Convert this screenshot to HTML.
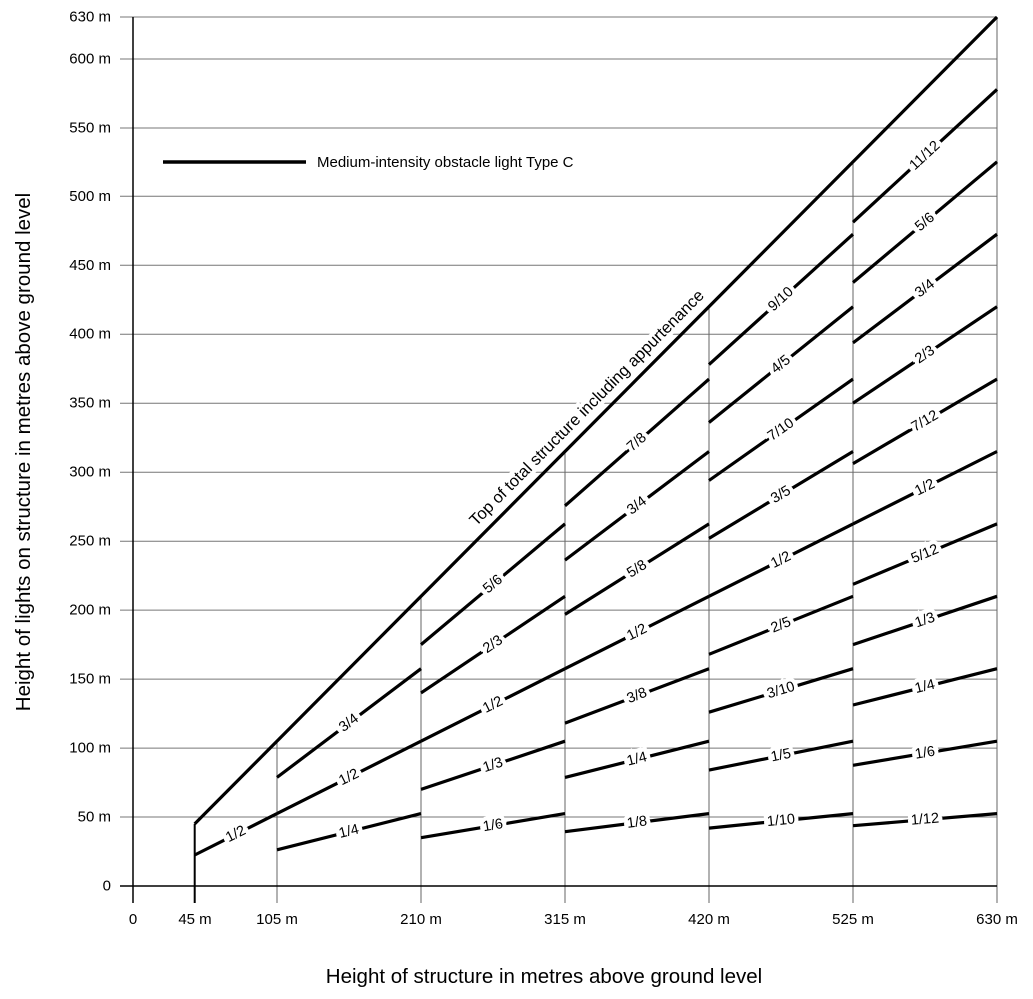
<!DOCTYPE html>
<html><head><meta charset="utf-8"><style>
html,body{margin:0;padding:0;background:#fff;}
svg{display:block;font-family:"Liberation Sans",sans-serif;}
.g{stroke:#777;stroke-width:1;}
.v{stroke:#666;stroke-width:1;}
.s{stroke:#000;stroke-width:3.2;stroke-linecap:butt;}
.l{font-size:14.5px;fill:#000;stroke:#fff;stroke-width:8;paint-order:stroke;text-anchor:middle;dominant-baseline:central;}
.yt{font-size:15px;text-anchor:end;dominant-baseline:central;}
.xt{font-size:15px;text-anchor:middle;}
</style></head><body>
<svg width="1033" height="999" viewBox="0 0 1033 999">
<g class="g">
<line x1="120" y1="17" x2="997" y2="17"/>
<line x1="120" y1="59" x2="997" y2="59"/>
<line x1="120" y1="128" x2="997" y2="128"/>
<line x1="120" y1="196.3" x2="997" y2="196.3"/>
<line x1="120" y1="265.3" x2="997" y2="265.3"/>
<line x1="120" y1="334.2" x2="997" y2="334.2"/>
<line x1="120" y1="403.2" x2="997" y2="403.2"/>
<line x1="120" y1="472.2" x2="997" y2="472.2"/>
<line x1="120" y1="541.2" x2="997" y2="541.2"/>
<line x1="120" y1="610.1" x2="997" y2="610.1"/>
<line x1="120" y1="679.1" x2="997" y2="679.1"/>
<line x1="120" y1="748.1" x2="997" y2="748.1"/>
<line x1="120" y1="817" x2="997" y2="817"/>
</g>
<g class="v">
<line x1="277" y1="903" x2="277" y2="741.2"/>
<line x1="421" y1="903" x2="421" y2="596.3"/>
<line x1="565" y1="903" x2="565" y2="451.5"/>
<line x1="709" y1="903" x2="709" y2="306.7"/>
<line x1="853" y1="903" x2="853" y2="161.8"/>
<line x1="997" y1="903" x2="997" y2="17"/>
</g>
<line x1="133" y1="17" x2="133" y2="903" stroke="#000" stroke-width="1.5"/>
<line x1="120" y1="886" x2="997" y2="886" stroke="#000" stroke-width="1.5"/>
<line x1="194.7" y1="903" x2="194.7" y2="823.9" stroke="#000" stroke-width="2"/>
<line class="s" x1="194.7" y1="823.9" x2="997" y2="17"/>
<text x="587" y="408" font-size="16.5" text-anchor="middle" dominant-baseline="central" fill="#000" stroke="#fff" stroke-width="8" paint-order="stroke" transform="rotate(-45.2 587 408)">Top of total structure including appurtenance</text>
<g class="s">
<line x1="194.7" y1="855" x2="277" y2="813.6"/>
<line x1="277" y1="849.8" x2="421" y2="813.6"/>
<line x1="277" y1="813.6" x2="421" y2="741.2"/>
<line x1="277" y1="777.4" x2="421" y2="668.7"/>
<line x1="421" y1="837.7" x2="565" y2="813.6"/>
<line x1="421" y1="789.4" x2="565" y2="741.2"/>
<line x1="421" y1="741.2" x2="565" y2="668.7"/>
<line x1="421" y1="692.9" x2="565" y2="596.3"/>
<line x1="421" y1="644.6" x2="565" y2="523.9"/>
<line x1="565" y1="831.7" x2="709" y2="813.6"/>
<line x1="565" y1="777.4" x2="709" y2="741.2"/>
<line x1="565" y1="723.1" x2="709" y2="668.7"/>
<line x1="565" y1="668.7" x2="709" y2="596.3"/>
<line x1="565" y1="614.4" x2="709" y2="523.9"/>
<line x1="565" y1="560.1" x2="709" y2="451.5"/>
<line x1="565" y1="505.8" x2="709" y2="379.1"/>
<line x1="709" y1="828.1" x2="853" y2="813.6"/>
<line x1="709" y1="770.1" x2="853" y2="741.2"/>
<line x1="709" y1="712.2" x2="853" y2="668.7"/>
<line x1="709" y1="654.3" x2="853" y2="596.3"/>
<line x1="709" y1="596.3" x2="853" y2="523.9"/>
<line x1="709" y1="538.4" x2="853" y2="451.5"/>
<line x1="709" y1="480.5" x2="853" y2="379.1"/>
<line x1="709" y1="422.5" x2="853" y2="306.7"/>
<line x1="709" y1="364.6" x2="853" y2="234.2"/>
<line x1="853" y1="825.7" x2="997" y2="813.6"/>
<line x1="853" y1="765.3" x2="997" y2="741.2"/>
<line x1="853" y1="705" x2="997" y2="668.7"/>
<line x1="853" y1="644.6" x2="997" y2="596.3"/>
<line x1="853" y1="584.3" x2="997" y2="523.9"/>
<line x1="853" y1="523.9" x2="997" y2="451.5"/>
<line x1="853" y1="463.6" x2="997" y2="379.1"/>
<line x1="853" y1="403.2" x2="997" y2="306.7"/>
<line x1="853" y1="342.9" x2="997" y2="234.2"/>
<line x1="853" y1="282.5" x2="997" y2="161.8"/>
<line x1="853" y1="222.2" x2="997" y2="89.4"/>
</g>
<g class="l">
<text x="235.9" y="834.3" transform="rotate(-26.7 235.9 834.3)">1/2</text>
<text x="349" y="831.7" transform="rotate(-14.1 349 831.7)">1/4</text>
<text x="349" y="777.4" transform="rotate(-26.7 349 777.4)">1/2</text>
<text x="349" y="723.1" transform="rotate(-37 349 723.1)">3/4</text>
<text x="493" y="825.7" transform="rotate(-9.5 493 825.7)">1/6</text>
<text x="493" y="765.3" transform="rotate(-18.5 493 765.3)">1/3</text>
<text x="493" y="705" transform="rotate(-26.7 493 705)">1/2</text>
<text x="493" y="644.6" transform="rotate(-33.8 493 644.6)">2/3</text>
<text x="493" y="584.3" transform="rotate(-40 493 584.3)">5/6</text>
<text x="637" y="822.6" transform="rotate(-7.2 637 822.6)">1/8</text>
<text x="637" y="759.3" transform="rotate(-14.1 637 759.3)">1/4</text>
<text x="637" y="695.9" transform="rotate(-20.7 637 695.9)">3/8</text>
<text x="637" y="632.5" transform="rotate(-26.7 637 632.5)">1/2</text>
<text x="637" y="569.2" transform="rotate(-32.2 637 569.2)">5/8</text>
<text x="637" y="505.8" transform="rotate(-37 637 505.8)">3/4</text>
<text x="637" y="442.4" transform="rotate(-41.3 637 442.4)">7/8</text>
<text x="781" y="820.8" transform="rotate(-5.7 781 820.8)">1/10</text>
<text x="781" y="755.6" transform="rotate(-11.4 781 755.6)">1/5</text>
<text x="781" y="690.5" transform="rotate(-16.8 781 690.5)">3/10</text>
<text x="781" y="625.3" transform="rotate(-21.9 781 625.3)">2/5</text>
<text x="781" y="560.1" transform="rotate(-26.7 781 560.1)">1/2</text>
<text x="781" y="494.9" transform="rotate(-31.1 781 494.9)">3/5</text>
<text x="781" y="429.8" transform="rotate(-35.1 781 429.8)">7/10</text>
<text x="781" y="364.6" transform="rotate(-38.8 781 364.6)">4/5</text>
<text x="781" y="299.4" transform="rotate(-42.2 781 299.4)">9/10</text>
<text x="925" y="819.6" transform="rotate(-4.8 925 819.6)">1/12</text>
<text x="925" y="753.2" transform="rotate(-9.5 925 753.2)">1/6</text>
<text x="925" y="686.8" transform="rotate(-14.1 925 686.8)">1/4</text>
<text x="925" y="620.5" transform="rotate(-18.5 925 620.5)">1/3</text>
<text x="925" y="554.1" transform="rotate(-22.7 925 554.1)">5/12</text>
<text x="925" y="487.7" transform="rotate(-26.7 925 487.7)">1/2</text>
<text x="925" y="421.3" transform="rotate(-30.4 925 421.3)">7/12</text>
<text x="925" y="354.9" transform="rotate(-33.8 925 354.9)">2/3</text>
<text x="925" y="288.6" transform="rotate(-37 925 288.6)">3/4</text>
<text x="925" y="222.2" transform="rotate(-40 925 222.2)">5/6</text>
<text x="925" y="155.7" transform="rotate(-42.7 925 155.7)">11/12</text>
</g>
<line x1="163" y1="162" x2="306" y2="162" stroke="#000" stroke-width="3.5"/>
<text x="317" y="167" font-size="15">Medium-intensity obstacle light Type C</text>
<g class="yt">
<text x="111" y="17">630 m</text>
<text x="111" y="59">600 m</text>
<text x="111" y="128">550 m</text>
<text x="111" y="196.3">500 m</text>
<text x="111" y="265.3">450 m</text>
<text x="111" y="334.2">400 m</text>
<text x="111" y="403.2">350 m</text>
<text x="111" y="472.2">300 m</text>
<text x="111" y="541.2">250 m</text>
<text x="111" y="610.1">200 m</text>
<text x="111" y="679.1">150 m</text>
<text x="111" y="748.1">100 m</text>
<text x="111" y="817">50 m</text>
<text x="111" y="886">0</text>
</g>
<g class="xt">
<text x="133" y="924">0</text>
<text x="195" y="924">45 m</text>
<text x="277" y="924">105 m</text>
<text x="421" y="924">210 m</text>
<text x="565" y="924">315 m</text>
<text x="709" y="924">420 m</text>
<text x="853" y="924">525 m</text>
<text x="997" y="924">630 m</text>
</g>
<text x="544" y="983" font-size="20.5" text-anchor="middle">Height of structure in metres above ground level</text>
<text x="30" y="452" font-size="20.5" text-anchor="middle" transform="rotate(-90 30 452)">Height of lights on structure in metres above ground level</text>
</svg>
</body></html>
